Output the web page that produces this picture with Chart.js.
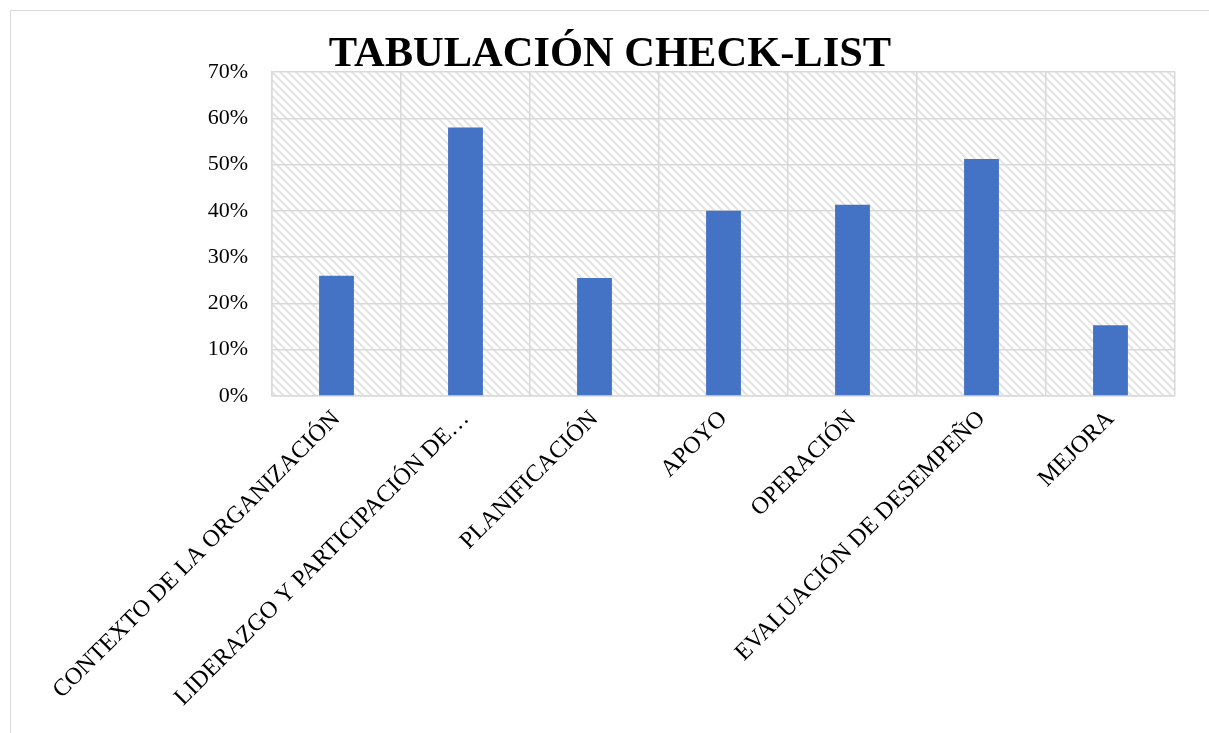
<!DOCTYPE html>
<html>
<head>
<meta charset="utf-8">
<script src="https://cdn.jsdelivr.net/npm/chart.js@4.4.1/dist/chart.umd.min.js"></script>
<style>
  html, body { margin: 0; padding: 0; background: #ffffff; overflow: hidden; }
  #frame { position: absolute; left: 10px; top: 10px; width: 1300px; height: 800px; border: 1px solid #d9d9d9; box-sizing: border-box; }
  #wrap { position: absolute; left: 0; top: 0; width: 1209px; height: 733px; }
</style>
</head>
<body>
<div id="frame"></div>
<div id="wrap"><canvas id="c" width="1209" height="733"></canvas></div>
<script>
const categories = [
  "CONTEXTO DE LA ORGANIZACIÓN",
  "LIDERAZGO Y PARTICIPACIÓN DE…",
  "PLANIFICACIÓN",
  "APOYO",
  "OPERACIÓN",
  "EVALUACIÓN DE DESEMPEÑO",
  "MEJORA"
];
const values = [26, 58, 25.5, 40, 41.3, 51.2, 15.3];
const yTicks = [0, 10, 20, 30, 40, 50, 60, 70];
const chartTitle = "TABULACIÓN CHECK-LIST";

const hatchPlugin = {
  id: 'hatch',
  beforeDraw(chart) {
    const { ctx, chartArea } = chart;
    const tile = document.createElement('canvas');
    tile.width = 8; tile.height = 8;
    const t = tile.getContext('2d');
    t.fillStyle = '#ffffff';
    t.fillRect(0, 0, 8, 8);
    t.strokeStyle = '#e3e3e3';
    t.lineWidth = 2;
    t.beginPath();
    t.moveTo(-2, -2); t.lineTo(10, 10);
    t.moveTo(-10, -2); t.lineTo(2, 10);
    t.moveTo(6, -2); t.lineTo(18, 10);
    t.stroke();
    const pat = ctx.createPattern(tile, 'repeat');
    ctx.save();
    ctx.fillStyle = pat;
    ctx.fillRect(chartArea.left, chartArea.top, chartArea.right - chartArea.left, chartArea.bottom - chartArea.top);
    ctx.restore();
  }
};

new Chart(document.getElementById('c'), {
  type: 'bar',
  data: {
    labels: categories,
    datasets: [{
      data: values,
      backgroundColor: '#4472C4',
      borderWidth: 0,
      barPercentage: 0.27,
      categoryPercentage: 1
    }]
  },
  options: {
    responsive: false,
    animation: false,
    devicePixelRatio: 1,
    layout: { padding: { left: 45, right: 34, top: 38, bottom: 0 } },
    plugins: {
      legend: { display: false },
      tooltip: { enabled: false },
      title: {
        display: true,
        text: chartTitle,
        color: '#000000',
        font: { family: "'Liberation Serif', 'Times New Roman', serif", size: 42.5, weight: 'bold', lineHeight: 0.8 },
        padding: { top: 0, bottom: 0 }
      }
    },
    scales: {
      x: {
        offset: true,
        grid: { display: true, offset: true, color: '#d9d9d9', lineWidth: 1.5, drawTicks: false },
        border: { display: true, color: '#d9d9d9', width: 1.5 },
        ticks: {
          autoSkip: false,
          maxRotation: 45,
          minRotation: 45,
          padding: 9,
          color: '#000000',
          font: { family: "'Liberation Serif', 'Times New Roman', serif", size: 24 }
        },
        afterFit(axis) { axis.height = 337; }
      },
      y: {
        min: 0,
        max: 70,
        afterBuildTicks(axis) { axis.ticks = yTicks.map(v => ({ value: v })); },
        grid: { color: '#d9d9d9', lineWidth: 1.5, drawTicks: false },
        border: { display: true, color: '#d9d9d9', width: 1.5 },
        ticks: {
          padding: 24,
          color: '#000000',
          font: { family: "'Liberation Serif', 'Times New Roman', serif", size: 22 },
          callback: (v) => v + '%'
        },
        afterFit(axis) { axis.width = 227; }
      }
    }
  },
  plugins: [hatchPlugin]
});
</script>
</body>
</html>
